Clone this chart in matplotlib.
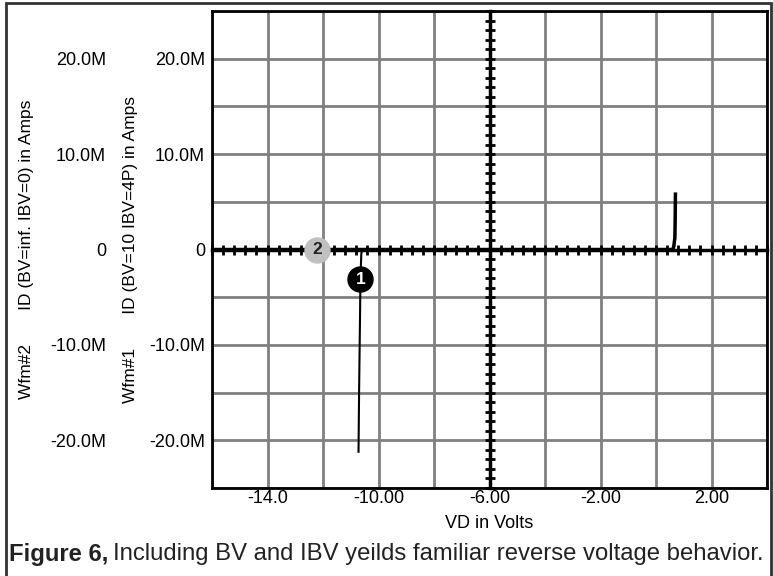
import matplotlib.pyplot as plt
import numpy as np
from matplotlib.ticker import FixedLocator, MultipleLocator, NullFormatter
from matplotlib.patches import Rectangle

plt.rcParams['font.family'] = ['Liberation Sans', 'DejaVu Sans']

# trace data
# Wfm#1: BV=10, IBV=4P  (breakdown near -10.65 V)
wfm1_v = [-10.72, -10.70, -10.67, -10.65, -10.62, -10.60, 0.0, 0.60, 0.64, 0.66, 0.68, 0.69, 0.70]
wfm1_i = [-21.2e6, -15.0e6, -8.0e6, -3.0e6, -0.5e6, 0.0, 0.0, 0.0, 0.3e6, 0.8e6, 1.2e6, 3.0e6, 5.8e6]
# Wfm#2: BV=inf, IBV=0  (no breakdown)
wfm2_v = [-16.0, -12.0, -8.0, -4.0, 0.0, 0.60, 0.64, 0.66, 0.68, 0.69, 0.70]
wfm2_i = [0.0, 0.0, 0.0, 0.0, 0.0, 0.0, 0.3e6, 0.8e6, 1.2e6, 3.0e6, 5.8e6]

xticks = [-14, -10, -6, -2, 2]
xticklabels = ['-14.0', '-10.00', '-6.00', '-2.00', '2.00']
yticks = [-20e6, -10e6, 0, 10e6, 20e6]
yticklabels = ['-20.0M', '-10.0M', '0', '10.0M', '20.0M']

# numbered callouts (x, y)
mark1 = (-10.65, -3.1e6)
mark2 = (-12.2, 0.0)

W, H = 773, 576
FS = 13
fig = plt.figure(figsize=(W / 100, H / 100), dpi=100)
ax = fig.add_axes([212 / W, 1 - 488 / H, 555 / W, 477 / H])
ax.set_xlim(-16, 4)
ax.set_ylim(-25e6, 25e6)

ax.xaxis.set_major_locator(FixedLocator(xticks))
ax.xaxis.set_minor_locator(MultipleLocator(2))
ax.set_xticklabels(xticklabels)
ax.yaxis.set_major_locator(FixedLocator(yticks))
ax.yaxis.set_minor_locator(MultipleLocator(5e6))
ax.set_yticklabels(yticklabels)
ax.tick_params(which='both', length=0, labelsize=FS, colors='black')
ax.tick_params(axis='x', pad=1.5)
ax.tick_params(axis='y', pad=5)
ax.grid(True, which='both', color='#808080', lw=2)
ax.set_axisbelow(True)
for s in ax.spines.values():
    s.set_linewidth(2)
    s.set_color('black')

ax.set_xlabel('VD in Volts', fontsize=FS, labelpad=6)
ax.set_ylabel('Wfm#1       ID (BV=10 IBV=4P) in Amps', fontsize=12.5)
ax.yaxis.set_label_coords((138 - 212) / 555, 0.5)

# second set of y labels for Wfm#2
sec = ax.secondary_yaxis((106 - 212) / 555)
sec.yaxis.set_major_locator(FixedLocator(yticks))
sec.set_yticklabels(yticklabels)
sec.tick_params(length=0, labelsize=FS, pad=0)
sec.spines['left'].set_visible(False)
sec.set_ylabel('Wfm#2       ID (BV=inf. IBV=0) in Amps', fontsize=12.5)
sec.yaxis.set_label_coords((34 - 212) / 555, 0.5, transform=ax.transAxes)

# center crosshair axes with fine ticks
axc = fig.add_axes(ax.get_position())
axc.set_xlim(ax.get_xlim())
axc.set_ylim(ax.get_ylim())
axc.patch.set_alpha(0)
axc.spines['left'].set_position(('data', -6))
axc.spines['bottom'].set_position(('data', 0))
axc.spines['right'].set_visible(False)
axc.spines['top'].set_visible(False)
for s in ('left', 'bottom'):
    axc.spines[s].set_linewidth(2.5)
axc.xaxis.set_major_locator(MultipleLocator(0.4))
axc.yaxis.set_major_locator(MultipleLocator(1e6))
axc.xaxis.set_major_formatter(NullFormatter())
axc.yaxis.set_major_formatter(NullFormatter())
axc.tick_params(which='major', direction='inout', length=7, width=2)

axc.plot(wfm2_v, wfm2_i, color='black', lw=2.5, solid_joinstyle='round')
axc.plot(wfm1_v, wfm1_i, color='black', lw=1.5, solid_joinstyle='round')

axc.plot(*mark1, 'o', ms=18, color='black', clip_on=False, zorder=5)
axc.text(*mark1, '1', color='white', fontsize=12.5, fontweight='bold', ha='center', va='center', zorder=6)
axc.plot(*mark2, 'o', ms=18, color='#c0c0c0', clip_on=False, zorder=5)
axc.text(*mark2, '2', color='#222222', fontsize=12.5, fontweight='bold', ha='center', va='center', zorder=6)

# outer frame and caption
fig.patches.append(Rectangle((6 / W, -0.2), 765 / W, 1.2 - 3 / H, transform=fig.transFigure,
                             fill=False, lw=2, edgecolor='#333333'))
CFS = 17.2
t1 = fig.text(9 / W, 1 - 554 / H, 'Figure 6,', fontsize=CFS, fontweight='bold', va='center', color='#222222')
fig.canvas.draw()
bb = t1.get_window_extent()
fig.text((bb.x1 + 5) / W, 1 - 554 / H, 'Including BV and IBV yeilds familiar reverse voltage behavior.',
         fontsize=CFS, va='center', color='#222222')

fig.savefig('out.png', dpi=100)
